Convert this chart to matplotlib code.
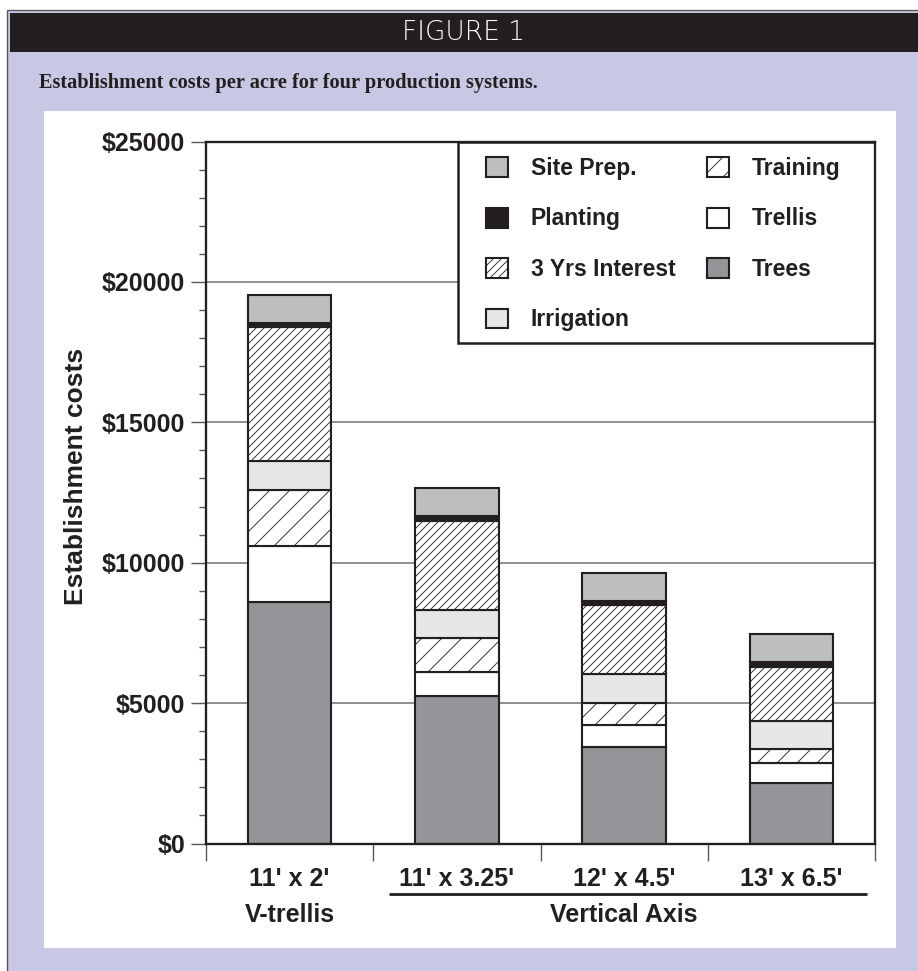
import matplotlib
matplotlib.use('Agg')
import matplotlib.pyplot as plt
from matplotlib.patches import Rectangle, Patch
import matplotlib.transforms as mtransforms
import numpy as np

DPI = 120


def pt(px):
    """convert pixels to points at the output dpi"""
    return px * 72.0 / DPI


plt.rcParams['font.family'] = ['Liberation Sans', 'DejaVu Sans']
plt.rcParams['hatch.linewidth'] = pt(0.85)

# ---------------- data ----------------
systems = ["11' x 2'", "11' x 3.25'", "12' x 4.5'", "13' x 6.5'"]
group_labels = ["V-trellis", "Vertical Axis"]
trees = [8590, 5270, 3450, 2170]
trellis = [2020, 850, 780, 690]
training = [1980, 1210, 790, 500]
irrigation = [1020, 990, 1010, 1010]
interest = [4770, 3170, 2460, 1930]
planting = [170, 180, 160, 160]
site_prep = [1000, 1000, 990, 1000]
ytick_values = [0, 5000, 10000, 15000, 20000, 25000]
ytick_labels = ["\\$0", "\\$5000", "\\$10000", "\\$15000", "\\$20000", "\\$25000"]

# ---------------- style ----------------
DARK = '#231F20'
LAV = '#C9C8E4'
layers = [
    ("Trees", trees, '#939598', None),
    ("Trellis", trellis, '#FFFFFF', None),
    ("Training", training, '#FFFFFF', '//'),
    ("Irrigation", irrigation, '#E6E7E8', None),
    ("3 Yrs Interest", interest, '#FFFFFF', '/////'),
    ("Planting", planting, DARK, None),
    ("Site Prep.", site_prep, '#BCBEC0', None),
]

W, H = 918, 971
fig = plt.figure(figsize=(W / DPI, H / DPI), dpi=DPI, facecolor='white')


def fx(x):
    return x / W


def fy(y):
    return 1 - y / H


def frect(x0, y0, x1, y1, **kw):
    r = Rectangle((fx(x0), fy(y1)), (x1 - x0) / W, (y1 - y0) / H,
                  transform=fig.transFigure, zorder=-10, **kw)
    fig.patches.append(r)


# background frame
frect(7, 10, 925, 980, facecolor=LAV, edgecolor='#58595B', linewidth=pt(1.4))
frect(10, 13, 925, 52, facecolor=DARK, edgecolor='none')
frect(44, 111, 896, 948, facecolor='white', edgecolor='none')

fig.text(fx(464), fy(33), "FIGURE 1", color='white', fontsize=pt(26.4),
         family=['DejaVu Sans'], fontweight='light', ha='center', va='center')
fig.text(fx(39), fy(88), "Establishment costs per acre for four production systems.",
         family=['Liberation Serif', 'DejaVu Serif'], fontweight='bold',
         fontsize=pt(20.4), color=DARK, ha='left', va='baseline')

# ---------------- axes ----------------
ax = fig.add_axes([fx(206), fy(843.5), (875 - 206) / W, (843.5 - 141.5) / H])
ax.set_zorder(1)
ax.set_facecolor('white')
x = np.arange(len(systems))
bottom = np.zeros(len(systems))
handles = {}
for name, vals, col, hatch in layers:
    vals = np.array(vals, dtype=float)
    ax.bar(x, vals, width=0.5, bottom=bottom, color=col, edgecolor=DARK,
           linewidth=pt(2.1), hatch=hatch, zorder=3)
    handles[name] = Patch(facecolor=col, edgecolor=DARK, linewidth=pt(2.1), hatch=hatch)
    bottom += vals

ax.set_xlim(-0.5, 3.5)
ax.set_ylim(0, 25000)

for s in ax.spines.values():
    s.set_linewidth(pt(2.3))
    s.set_color(DARK)
    s.set_zorder(5)

ax.set_yticks(ytick_values)
ax.set_yticklabels(ytick_labels, fontsize=pt(25), fontweight='bold', color=DARK)
ax.set_yticks(np.arange(0, 25001, 1000), minor=True)
ax.tick_params(axis='y', which='major', length=pt(15), width=pt(1.4),
               color='#58595B', pad=pt(5.6))
ax.tick_params(axis='y', which='minor', length=pt(7.2), width=pt(1.4), color='#58595B')

ax.set_xticks(x)
ax.set_xticklabels(systems, fontsize=pt(25), fontweight='bold', color=DARK)
ax.set_xticks([-0.5, 0.5, 1.5, 2.5, 3.5], minor=True)
ax.tick_params(axis='x', which='major', length=0, pad=pt(24))
ax.tick_params(axis='x', which='minor', length=pt(16.7), width=pt(1.4), color='#58595B')

ax.set_axisbelow(True)
ax.yaxis.grid(True, which='major', color='#6D6E71', linewidth=pt(1.5), zorder=0)

# group labels under categories
trans = mtransforms.blended_transform_factory(ax.transData, ax.transAxes)
ax.text(0, -0.1015, group_labels[0], transform=trans, ha='center', va='center',
        fontsize=pt(25), fontweight='bold', color=DARK)
ax.text(2, -0.1015, group_labels[1], transform=trans, ha='center', va='center',
        fontsize=pt(25), fontweight='bold', color=DARK)
ax.plot([0.593, 3.455], [-0.0725, -0.0725], transform=trans, color=DARK,
        linewidth=pt(2.8), clip_on=False, solid_capstyle='butt')

fig.text(fx(76), fy(476), "Establishment costs", rotation=90, ha='center', va='center',
         fontsize=pt(26.4), fontweight='bold', color=DARK)

# legend box
ax.add_patch(Rectangle((0.3767, 0.713), 1 - 0.3767, 1 - 0.713, transform=ax.transAxes,
                       facecolor='white', edgecolor=DARK, linewidth=pt(2.5), zorder=4))
order = ["Site Prep.", "Planting", "3 Yrs Interest", "Irrigation",
         "Training", "Trellis", "Trees"]
leg = ax.legend([handles[n] for n in order], order, ncol=2, loc='upper left',
                bbox_to_anchor=(0.4185, 0.978), borderpad=0, borderaxespad=0,
                frameon=False, handlelength=0.96, handleheight=0.96,
                handletextpad=1.0, labelspacing=1.2, columnspacing=1.35,
                prop={'size': pt(22.9), 'weight': 'bold'})
leg.set_zorder(6)
for t in leg.get_texts():
    t.set_color(DARK)

fig.savefig('out.png', dpi=DPI, facecolor=fig.get_facecolor())
